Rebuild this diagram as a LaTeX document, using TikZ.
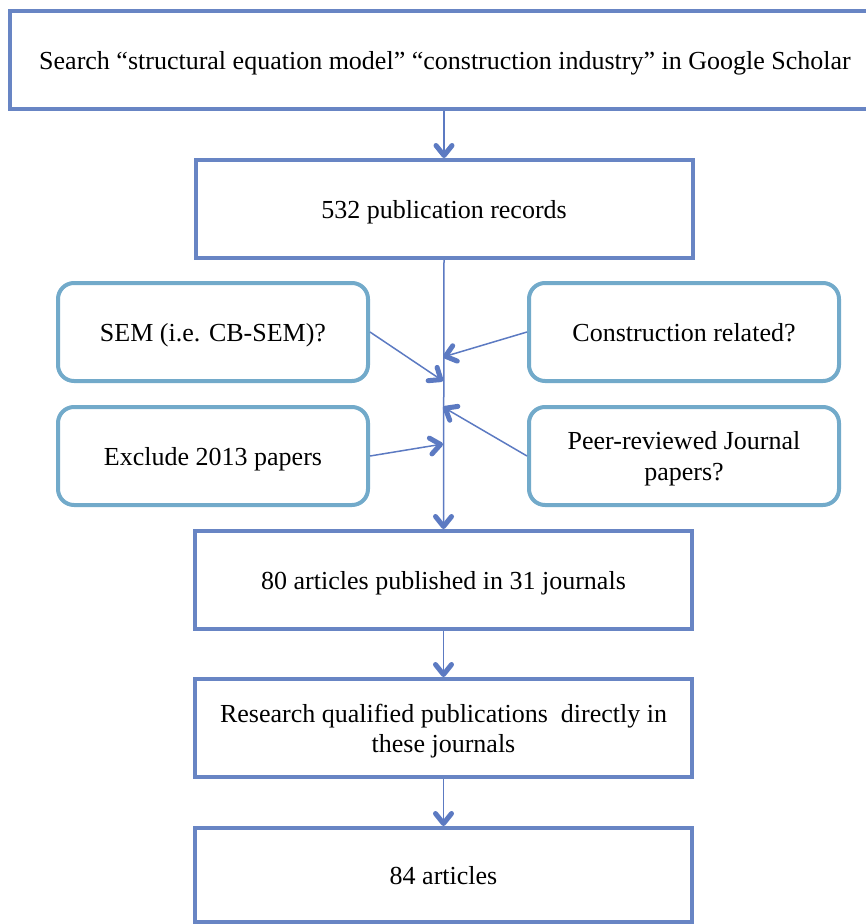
\documentclass[tikz,border=0pt]{standalone}
\usepackage{fontspec}
\setmainfont{Liberation Serif}
\usetikzlibrary{arrows.meta}
\definecolor{boxblue}{RGB}{104,133,196}
\definecolor{arrowblue}{RGB}{92,122,194}
\definecolor{roundblue}{RGB}{114,170,202}
\pgfdeclarearrow{
  name=FatBarb,
  parameters={\the\pgfarrowlength,\the\pgfarrowwidth},
  setup code={
    \pgfarrowssettipend{0pt}
    \pgfarrowssetlineend{-3pt}
    \pgfarrowssetbackend{-\pgfarrowlength}
    \pgfarrowsupperhullpoint{-\pgfarrowlength}{.5\pgfarrowwidth}
    \pgfarrowsupperhullpoint{0pt}{0pt}
  },
  drawing code={
    \pgfsetlinewidth{5pt}
    \pgfsetroundcap
    \pgfsetroundjoin
    \pgfpathmoveto{\pgfpoint{-\pgfarrowlength+2.5pt}{.5\pgfarrowwidth-2.5pt}}
    \pgfpathlineto{\pgfpoint{-2.5pt}{0pt}}
    \pgfpathlineto{\pgfpoint{-\pgfarrowlength+2.5pt}{-.5\pgfarrowwidth+2.5pt}}
    \pgfusepathqstroke
  },
  defaults={length=15pt,width=21pt}
}
\begin{document}
\begin{tikzpicture}[x=1pt,y=-1pt,
  mainbox/.style={draw=boxblue, line width=4pt, minimum width=497pt, minimum height=98pt,
    inner sep=0pt, align=center, text depth=0pt, font=\fontsize{26}{30}\selectfont},
  roundbox/.style={draw=roundblue, line width=4pt, rounded corners=16pt, minimum width=310pt,
    minimum height=98pt, inner sep=0pt, align=center, text depth=0pt, font=\fontsize{26}{31}\selectfont},
  conn/.style={draw=arrowblue, line width=1.5pt, -FatBarb}
]
\useasboundingbox (0,0) rectangle (866,924);

\node[mainbox, minimum width=870pt] (top) at (445,60)
  {Search “structural equation model” “construction industry” in Google Scholar};
\node[mainbox] (rec) at (444,209) {532 publication records};
\node[mainbox] (art) at (443.5,580) {80 articles published in 31 journals};
\node[mainbox] (res) at (443.5,728) {Research qualified publications\ \ directly in\\these journals};
\node[mainbox, minimum height=94pt] (fin) at (443.5,875) {84 articles};

\node[roundbox] (sem) at (213,332) {SEM (i.e. CB-SEM)?};
\node[roundbox] (exc) at (213,456) {Exclude 2013 papers};
\node[roundbox] (con) at (684,332) {Construction related?};
\node[roundbox] (peer) at (684,456) {Peer-reviewed Journal\\papers?};

\coordinate (jA) at (443,381);
\coordinate (jB) at (443,357);
\coordinate (jC) at (443,444);
\coordinate (jD) at (443,407);

\draw[conn] (rec.north |- top.south) -- (rec.north);
\draw[conn] (rec.south) -- (art.north);
\draw[conn] (art.south) -- (res.north);
\draw[conn] (res.south) -- (fin.north);

\draw[conn] (sem.east) -- (jA);
\draw[conn] (con.west) -- (jB);
\draw[conn] (exc.east) -- (jC);
\draw[conn] (peer.west) -- (jD);
\end{tikzpicture}
\end{document}
